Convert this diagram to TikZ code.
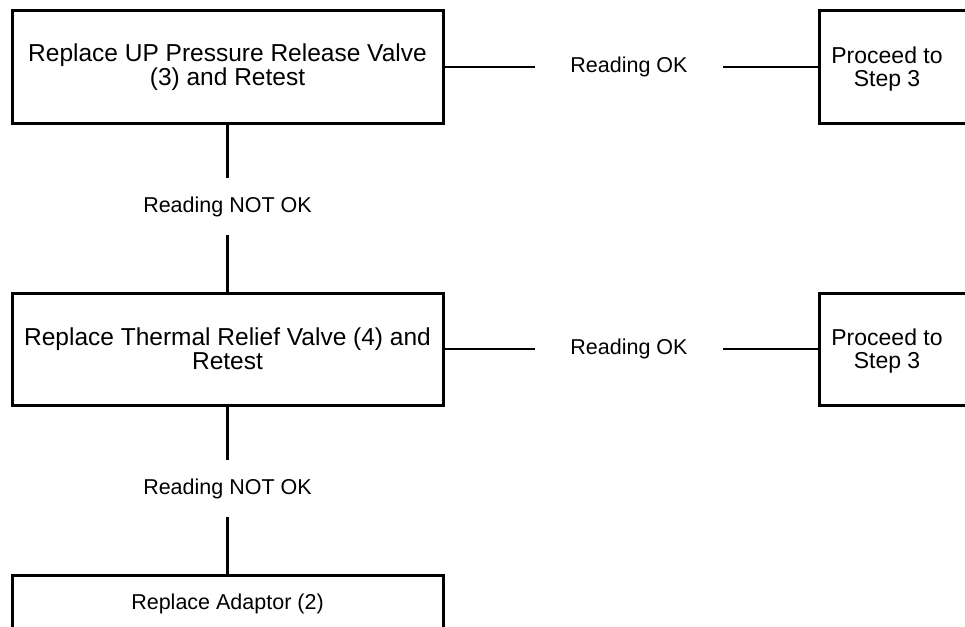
\documentclass[tikz,border=0pt]{standalone}
\usepackage{fontspec}
\setmainfont{Liberation Sans}
\begin{document}
\begin{tikzpicture}[x=1pt,y=-1pt,
  stepbox/.style={draw,line width=3pt,minimum width=431pt,minimum height=112pt,inner sep=0pt,align=center,font=\fontsize{24.5}{24}\selectfont},
  okbox/.style={draw,line width=3pt,minimum width=170pt,minimum height=112pt,inner sep=0pt,anchor=west},
  oktext/.style={align=center,inner sep=0pt,font=\fontsize{23}{23.5}\selectfont},
  hlbl/.style={minimum width=188pt,inner sep=0pt,font=\fontsize{21.5}{24}\selectfont},
  vlbl/.style={minimum height=56pt,inner sep=0pt,font=\fontsize{21.5}{24}\selectfont},
  link/.style={line width=2.6pt}]
\useasboundingbox (0,0) rectangle (965,626);
\fill[white] (0,0) rectangle (965,626);
\clip (0,0) rectangle (965,626);
% left column of steps
\node[stepbox] (upvalve) at (227.5,67) {Replace UP Pressure Release Valve\\(3) and Retest};
\node[stepbox] (thermal) at (227.5,349) {Replace Thermal Relief Valve (4) and\\Retest};
\node[stepbox,minimum height=56pt,anchor=north] (adaptor) at (227.5,574) {\fontsize{21.5}{24}\selectfont Replace Adaptor (2)};
% right column, cut at the page edge
\node[okbox] (ok1) at (818,67) {};
\node[oktext] (ok1txt) at (887,69) {Proceed to\\Step 3};
\node[okbox] (ok2) at (818,349) {};
\node[oktext] (ok2txt) at (887,351) {Proceed to\\Step 3};
% labels on the links
\node[hlbl] (ok1lbl) at (629,67) {Reading OK};
\node[hlbl] (ok2lbl) at (629,349) {Reading OK};
\node[vlbl] (nok1lbl) at (227.5,206.5) {Reading NOT OK};
\node[vlbl] (nok2lbl) at (227.5,488.5) {Reading NOT OK};
% links
\draw[link] (upvalve.east) -- (ok1lbl.west);
\draw[link] (ok1lbl.east) -- (ok1.west);
\draw[link] (thermal.east) -- (ok2lbl.west);
\draw[link] (ok2lbl.east) -- (ok2.west);
\draw[link] (upvalve.south) -- (nok1lbl.north);
\draw[link] (nok1lbl.south) -- (thermal.north);
\draw[link] (thermal.south) -- (nok2lbl.north);
\draw[link] (nok2lbl.south) -- (adaptor.north);
\end{tikzpicture}
\end{document}
